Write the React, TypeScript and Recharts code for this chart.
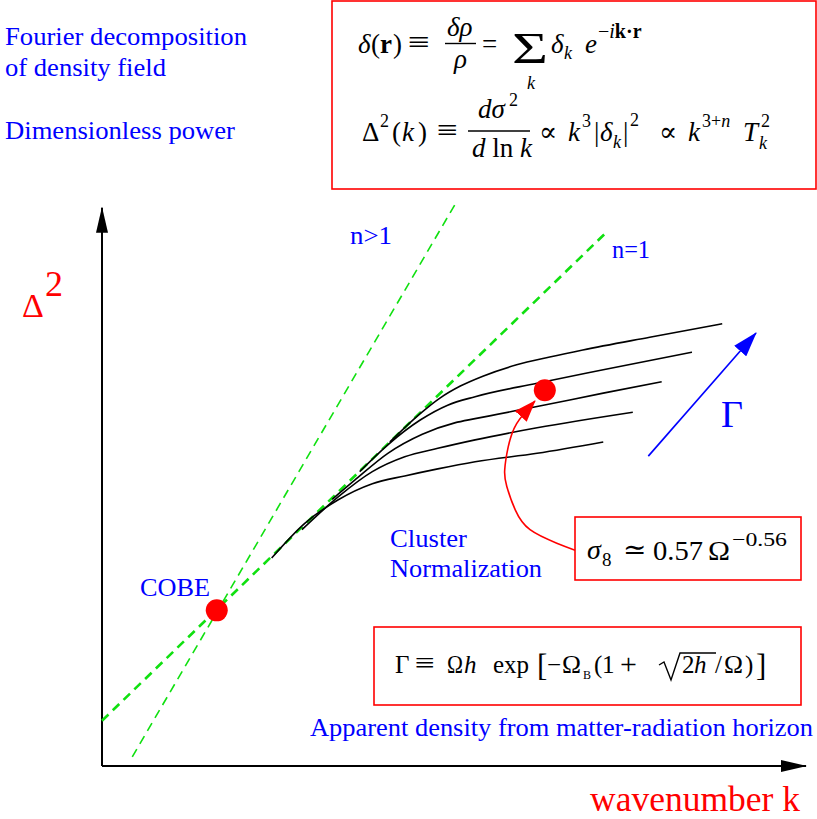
import { ComposedChart, Line, XAxis, YAxis, ReferenceDot } from 'recharts'

// arbitrary log units: x ~ log k, y ~ log Delta^2
const curve1: [number, number][] = [[40.9, 45.8], [45.2, 49.8], [48.0, 52.0], [50.9, 53.7], [54.1, 55.1], [58.9, 56.7], [63.6, 57.8], [68.3, 58.8], [77.8, 60.6], [88.1, 62.5]]
const curve2: [number, number][] = [[36.6, 41.6], [40.6, 45.4], [45.2, 48.9], [49.1, 51.0], [53.0, 52.2], [61.8, 54.1], [71.2, 56.0], [83.8, 58.5]]
const curve3: [number, number][] = [[32.7, 37.7], [35.9, 40.4], [40.6, 44.2], [45.5, 46.9], [50.1, 48.5], [53.0, 49.1], [61.8, 50.8], [71.2, 52.7], [79.5, 54.3]]
const curve4: [number, number][] = [[28.4, 33.4], [33.5, 38.0], [38.4, 41.6], [43.0, 43.7], [47.7, 44.9], [53.0, 46.1], [61.8, 47.8], [75.4, 50.0]]
const curve5: [number, number][] = [[24.1, 29.4], [28.8, 34.3], [33.5, 37.6], [38.4, 39.9], [43.0, 41.0], [47.7, 42.0], [53.0, 43.0], [61.8, 44.2], [71.2, 45.8]]

const nEq1: [number, number][] = [[0, 6.4], [71.4, 75.2]]
const nGt1: [number, number][] = [[4.3, 1.3], [50.1, 79.3]]

const cobe: [number, number] = [16.3, 22.0]
const cluster: [number, number] = [62.9, 53.1]

const gammaArrow: [number, number][] = [[77.6, 43.8], [92.9, 61.2]]
const clusterArrow: [number, number][] = [[67.2, 30.5], [64.6, 31.5], [60.8, 33.4], [58.7, 36.2], [57.5, 39.5], [57.2, 41.8], [57.7, 45.1], [58.9, 48.4], [61.5, 51.6]]

const xAxisLine: [number, number][] = [[0, 0], [100, 0]]
const yAxisLine: [number, number][] = [[0, 0], [0, 78.9]]

const toPts = (arr: [number, number][]) => arr.map(([x, y]) => ({ x, y }))

const BLUE = '#0000ff'
const RED = '#ff0000'
const GREEN = '#10e010'
const SERIF = "'Liberation Serif', 'DejaVu Serif', serif"

function Overlay() {
    return (
        <svg
            width={817}
            height={819}
            style={{ position: 'absolute', left: 0, top: 0, pointerEvents: 'none' }}
            fontFamily={SERIF}
        >
            <defs>
                <marker id="headBlack" viewBox="0 0 26 12" markerWidth={26} markerHeight={12} refX={25} refY={6} orient="auto" markerUnits="userSpaceOnUse">
                    <path d="M0,0 L26,6 L0,12 z" fill="#000" />
                </marker>
                <marker id="headBlue" viewBox="0 0 25 16" markerWidth={25} markerHeight={16} refX={24} refY={8} orient="auto" markerUnits="userSpaceOnUse">
                    <path d="M0,0 L25,8 L0,16 z" fill={BLUE} />
                </marker>
                <marker id="headRed" viewBox="0 0 22 16" markerWidth={22} markerHeight={16} refX={21} refY={8} orient="auto" markerUnits="userSpaceOnUse">
                    <path d="M0,0 L22,8 L0,16 z" fill={RED} />
                </marker>
            </defs>

            {/* left captions */}
            <g fill={BLUE} fontSize={25}>
                <text x={5} y={45} textLength={242} lengthAdjust="spacingAndGlyphs">Fourier decomposition</text>
                <text x={5} y={76} textLength={161} lengthAdjust="spacingAndGlyphs">of density field</text>
                <text x={5} y={139} textLength={230} lengthAdjust="spacingAndGlyphs">Dimensionless power</text>
            </g>

            {/* top formula box */}
            <rect x={332} y={1} width={484} height={188} fill="none" stroke={RED} strokeWidth={1.6} />
            <g fill="#000" fontSize={27}>
                <text x={358} y={53} fontStyle="italic">δ</text>
                <text x={371} y={53}>(</text>
                <text x={380} y={53} fontWeight="bold">r</text>
                <text x={393} y={53}>)</text>
                <text x={408} y={52} fontSize={30} textLength={22} lengthAdjust="spacingAndGlyphs">≡</text>
                <text x={447} y={36} fontStyle="italic">δρ</text>
                <line x1={445} x2={476} y1={43.5} y2={43.5} stroke="#000" strokeWidth={1.4} />
                <text x={454} y={68} fontStyle="italic">ρ</text>
                <text x={482} y={53}>=</text>
                <text x={512} y={63} fontSize={44} textLength={36} lengthAdjust="spacingAndGlyphs">Σ</text>
                <text x={527} y={89} fontSize={18} fontStyle="italic">k</text>
                <text x={551} y={53} fontStyle="italic">δ</text>
                <text x={564} y={59} fontSize={18} fontStyle="italic">k</text>
                <text x={585} y={53} fontStyle="italic">e</text>
                <text x={598} y={38} fontSize={20}>
                    −<tspan fontStyle="italic">i</tspan><tspan fontWeight="bold">k·r</tspan>
                </text>

                <text x={362} y={141}>Δ</text>
                <text x={380} y={127} fontSize={18}>2</text>
                <text x={392} y={141}>(</text>
                <text x={402} y={141} fontStyle="italic">k</text>
                <text x={418} y={141}>)</text>
                <text x={437} y={140} fontSize={30} textLength={21} lengthAdjust="spacingAndGlyphs">≡</text>
                <text x={478} y={118} fontStyle="italic">dσ</text>
                <text x={509} y={106} fontSize={18}>2</text>
                <line x1={468} x2={530} y1={131} y2={131} stroke="#000" strokeWidth={1.4} />
                <text x={472} y={157}>
                    <tspan fontStyle="italic">d</tspan> ln <tspan fontStyle="italic">k</tspan>
                </text>
                <text x={539} y={141}>∝</text>
                <text x={568} y={141} fontStyle="italic">k</text>
                <text x={582} y={127} fontSize={18}>3</text>
                <text x={594} y={141}>|</text>
                <text x={600} y={141} fontStyle="italic">δ</text>
                <text x={613} y={148} fontSize={18} fontStyle="italic">k</text>
                <text x={623} y={141}>|</text>
                <text x={630} y={126} fontSize={18}>2</text>
                <text x={659} y={141}>∝</text>
                <text x={688} y={141} fontStyle="italic">k</text>
                <text x={702} y={127} fontSize={18}>
                    3+<tspan fontStyle="italic">n</tspan>
                </text>
                <text x={743} y={141} fontStyle="italic">T</text>
                <text x={761} y={127} fontSize={18}>2</text>
                <text x={759} y={149} fontSize={18} fontStyle="italic">k</text>
            </g>

            {/* axis labels */}
            <text x={22} y={317} fontSize={34} fill={RED}>Δ</text>
            <text x={45} y={296} fontSize={36} fill={RED}>2</text>
            <text x={590} y={811} fontSize={35} fill={RED} textLength={210} lengthAdjust="spacingAndGlyphs">wavenumber k</text>

            {/* annotations */}
            <g fill={BLUE} fontSize={25}>
                <text x={350} y={244} textLength={42} lengthAdjust="spacingAndGlyphs">n&gt;1</text>
                <text x={612} y={258} textLength={38} lengthAdjust="spacingAndGlyphs">n=1</text>
                <text x={140} y={596} textLength={70} lengthAdjust="spacingAndGlyphs">COBE</text>
                <text x={390} y={547} textLength={77} lengthAdjust="spacingAndGlyphs">Cluster</text>
                <text x={390} y={577} textLength={152} lengthAdjust="spacingAndGlyphs">Normalization</text>
                <text x={721} y={427} fontSize={38}>Γ</text>
                <text x={310} y={736} textLength={503} lengthAdjust="spacingAndGlyphs">Apparent density from matter-radiation horizon</text>
            </g>

            {/* sigma_8 box */}
            <rect x={575} y={517} width={226} height={63} fill="none" stroke={RED} strokeWidth={1.6} />
            <g fill="#000" fontSize={28}>
                <text x={587} y={559} fontStyle="italic">σ</text>
                <text x={602} y={566} fontSize={19}>8</text>
                <text x={623} y={559}>≃</text>
                <text x={653} y={560} textLength={50} lengthAdjust="spacingAndGlyphs">0.57</text>
                <text x={708} y={560} textLength={22} lengthAdjust="spacingAndGlyphs">Ω</text>
                <text x={732} y={546} fontSize={19} textLength={55} lengthAdjust="spacingAndGlyphs">−0.56</text>
            </g>

            {/* Gamma box */}
            <rect x={374} y={627} width={427} height={78} fill="none" stroke={RED} strokeWidth={1.6} />
            <g fill="#000" fontSize={25}>
                <text x={395} y={673}>Γ</text>
                <text x={415} y={672} fontSize={28} textLength={20} lengthAdjust="spacingAndGlyphs">≡</text>
                <text x={447} y={673} textLength={16} lengthAdjust="spacingAndGlyphs">Ω</text>
                <text x={464} y={673} fontStyle="italic">h</text>
                <text x={493} y={673}>exp</text>
                <text x={537} y={676} fontSize={31}>[</text>
                <text x={547} y={673}>−</text>
                <text x={562} y={673} textLength={19} lengthAdjust="spacingAndGlyphs">Ω</text>
                <text x={583} y={679} fontSize={12}>B</text>
                <text x={594} y={673}>(</text>
                <text x={602} y={673}>1</text>
                <text x={620} y={674} fontSize={30}>+</text>
                <path d="M659,665 L664,662 L671,680 L680,653 L716,653" fill="none" stroke="#000" strokeWidth={1.4} />
                <text x={682} y={673}>2</text>
                <text x={694} y={673} fontStyle="italic">h</text>
                <text x={715} y={673}>/</text>
                <text x={724} y={673} textLength={19} lengthAdjust="spacingAndGlyphs">Ω</text>
                <text x={745} y={673}>)</text>
                <text x={756} y={676} fontSize={31}>]</text>
            </g>
        </svg>
    )
}

export default function App() {
    return (
        <div style={{ position: 'absolute', left: 0, top: 0, width: 817, height: 819, background: '#fff' }}>
            <ComposedChart width={817} height={819} margin={{ top: 200, right: 11, bottom: 53, left: 102 }}>
                <XAxis type="number" dataKey="x" domain={[0, 100]} hide />
                <YAxis type="number" dataKey="y" domain={[0, 80]} hide />

                <Line data={toPts(xAxisLine)} dataKey="y" stroke="#000" strokeWidth={2} dot={false} activeDot={false} isAnimationActive={false} markerEnd="url(#headBlack)" />
                <Line data={toPts(yAxisLine)} dataKey="y" stroke="#000" strokeWidth={2} dot={false} activeDot={false} isAnimationActive={false} markerEnd="url(#headBlack)" />

                <Line data={toPts(nEq1)} dataKey="y" stroke={GREEN} strokeWidth={2.6} strokeDasharray="9 6" dot={false} activeDot={false} isAnimationActive={false} />
                <Line data={toPts(nGt1)} dataKey="y" stroke={GREEN} strokeWidth={1.6} strokeDasharray="9 6" dot={false} activeDot={false} isAnimationActive={false} />

                {[curve1, curve2, curve3, curve4, curve5].map((c, i) => (
                    <Line key={i} data={toPts(c)} dataKey="y" type="monotone" stroke="#000" strokeWidth={1.6} dot={false} activeDot={false} isAnimationActive={false} />
                ))}

                <Line data={toPts(gammaArrow)} dataKey="y" stroke={BLUE} strokeWidth={1.6} dot={false} activeDot={false} isAnimationActive={false} markerEnd="url(#headBlue)" />
                <Line data={toPts(clusterArrow)} dataKey="y" type="natural" stroke={RED} strokeWidth={1.6} dot={false} activeDot={false} isAnimationActive={false} markerEnd="url(#headRed)" />

                <ReferenceDot x={cobe[0]} y={cobe[1]} r={11} fill={RED} stroke="none" />
                <ReferenceDot x={cluster[0]} y={cluster[1]} r={11} fill={RED} stroke="none" />
            </ComposedChart>
            <Overlay />
        </div>
    )
}
